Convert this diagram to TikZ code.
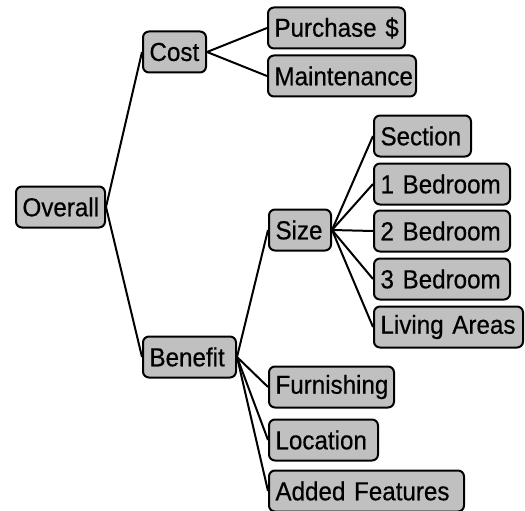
\documentclass[tikz,border=0pt]{standalone}
\usepackage{fontspec}
\setmainfont{Liberation Sans}
\newfontfamily\boxfont[FakeStretch=0.93,FakeBold=0.5]{Liberation Sans}
\definecolor{boxgray}{RGB}{192,192,192}
\begin{document}
\begin{tikzpicture}[x=1pt,y=-1pt,
  item/.style={draw=black, line width=2pt, fill=boxgray, rounded corners=6pt,
    anchor=west, minimum height=41pt, inner xsep=6.5pt, inner ysep=0pt,
    text width=#1-13pt, align=left,
    font=\boxfont\fontsize{26}{28}\selectfont},
  item/.default=10pt,
  link/.style={line width=2pt, black}]
\useasboundingbox (0,0) rectangle (525,511);

% root, first level and leaves (labels kept on one line)
\node[item=89pt]  (overall) at (15,207)  {Overall};
\node[item=63pt]  (cost)    at (142,52)  {Cost};
\node[item=137pt] (purch)   at (267,28)  {Purchase~\$};
\node[item=148pt] (maint)   at (267,76)  {Maintenance};
\node[item=93pt]  (benefit) at (142,357) {Benefit};
\node[item=62pt]  (size)    at (268,230) {Size};
\node[item=97pt]  (section) at (373,136) {Section};
\node[item=136pt] (bed1)    at (373,184) {1~Bedroom};
\node[item=136pt] (bed2)    at (373,231) {2~Bedroom};
\node[item=136pt] (bed3)    at (373,279) {3~Bedroom};
\node[item=149pt] (living)  at (373,327) {Living~Areas};
\node[item=125pt] (furn)    at (268,387) {Furnishing};
\node[item=109pt] (loc)     at (268,440) {Location};
\node[item=195pt] (added)   at (268,491) {Added~Features};

% each parent's right side joined to each child's left side
\foreach \p/\c in {overall/cost, overall/benefit, cost/purch, cost/maint,
  benefit/size, benefit/furn, benefit/loc, benefit/added,
  size/section, size/bed1, size/bed2, size/bed3, size/living}
  \draw[link] (\p.east) -- (\c.west);
\end{tikzpicture}
\end{document}
